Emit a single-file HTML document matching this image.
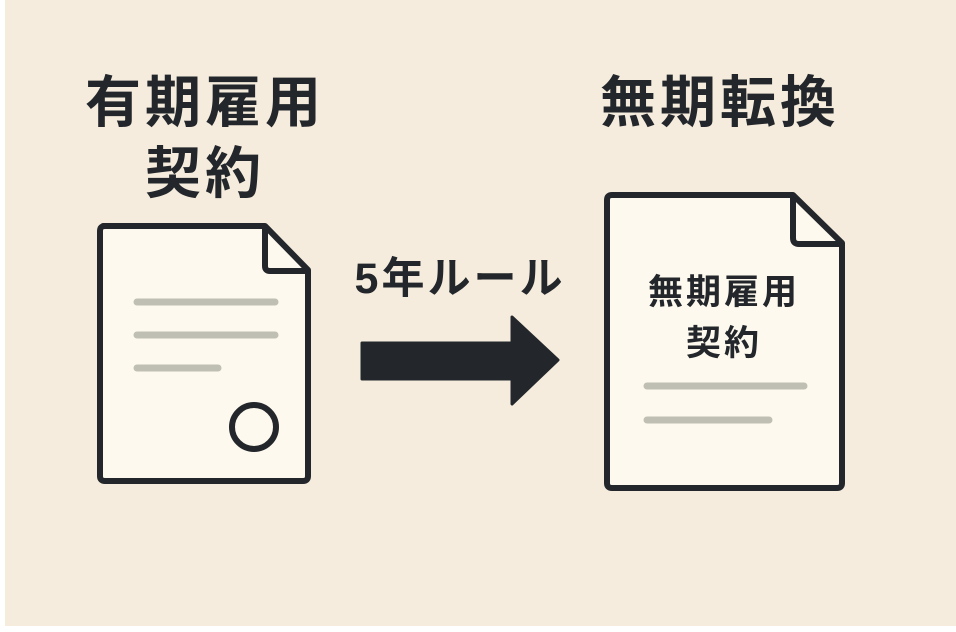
<!DOCTYPE html>
<html><head><meta charset="utf-8"><style>
html,body{margin:0;padding:0;background:#fff;}
svg{display:block}
text{font-family:"Liberation Sans","Noto Sans CJK JP",sans-serif;font-weight:700;fill:#23272b}
</style></head><body>
<svg width="956" height="632" viewBox="0 0 956 632">
<rect x="5" y="0" width="951" height="626" fill="#f5ecdd"/>
<text x="205" y="122" font-size="56" text-anchor="middle" letter-spacing="4">有期雇用</text>
<text x="205" y="193" font-size="56" text-anchor="middle" letter-spacing="4">契約</text>
<text x="720" y="122" font-size="56" text-anchor="middle" letter-spacing="4">無期転換</text>
<text x="460" y="293" font-size="43" text-anchor="middle" letter-spacing="3">5年ルール</text>
<!-- left doc -->
<path d="M103 226 H265 L308 270 V476 Q308 481 303 481 H105 Q100 481 100 476 V231 Q100 226 105 226 Z" fill="#fdf9ee" stroke="#23272b" stroke-width="6" stroke-linejoin="round"/>
<path d="M265 226 V266 Q265 271 270 271 H308" fill="none" stroke="#23272b" stroke-width="6" stroke-linejoin="round"/>
<g stroke="#bfbfb3" stroke-width="7" stroke-linecap="round">
<line x1="137" y1="302" x2="275" y2="302"/>
<line x1="137" y1="335" x2="275" y2="335"/>
<line x1="137" y1="368" x2="218" y2="368"/>
</g>
<circle cx="254" cy="427" r="22" fill="none" stroke="#23272b" stroke-width="6"/>
<!-- arrow -->
<path d="M362 343 H512 V317 L558 360 L512 404 V379 H362 Z" fill="#23272b" stroke="#23272b" stroke-width="3" stroke-linejoin="round"/>
<!-- right doc -->
<path d="M612 195 H793 L842 243 V483 Q842 488 837 488 H612 Q607 488 607 483 V200 Q607 195 612 195 Z" fill="#fdf9ee" stroke="#23272b" stroke-width="6" stroke-linejoin="round"/>
<path d="M793 195 V238 Q793 244 799 244 H842" fill="none" stroke="#23272b" stroke-width="6" stroke-linejoin="round"/>
<text x="724" y="304" font-size="35" text-anchor="middle" letter-spacing="3">無期雇用</text>
<text x="724" y="355" font-size="35" text-anchor="middle" letter-spacing="3">契約</text>
<g stroke="#bfbfb3" stroke-width="7" stroke-linecap="round">
<line x1="647" y1="386" x2="804" y2="386"/>
<line x1="647" y1="420" x2="769" y2="420"/>
</g>
</svg>
</body></html>
